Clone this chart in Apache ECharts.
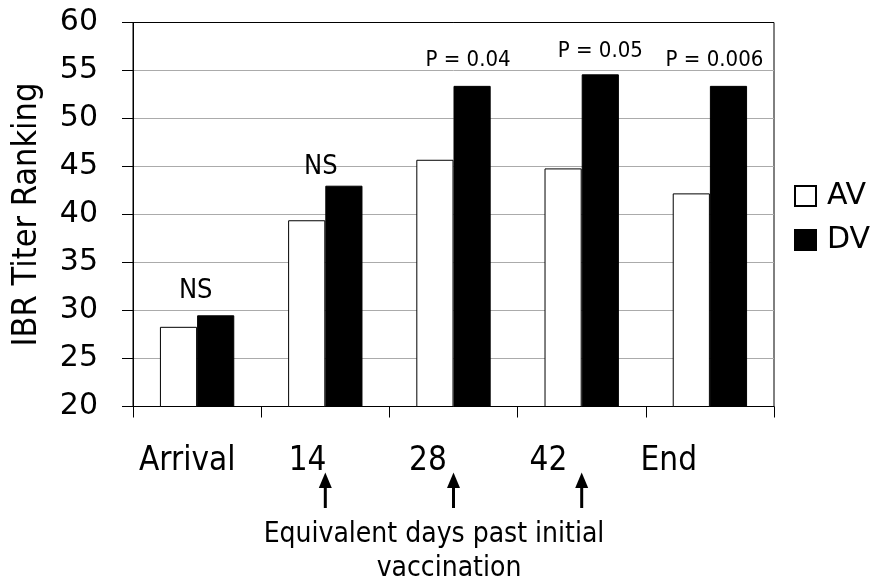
<!DOCTYPE html>
<html><head><meta charset="utf-8">
<script src="https://cdn.jsdelivr.net/npm/echarts@6/dist/echarts.min.js"></script>
<style>html,body{margin:0;padding:0;background:#fff}#c{width:870px;height:581px}</style>
</head><body><div id="c"></div>
<script>
// ---- data ----
const categories = ['Arrival', '14', '28', '42', 'End'];
const seriesNames = ['AV', 'DV'];
const avValues = [28.3, 39.4, 45.7, 44.8, 42.2];
const dvValues = [29.5, 43.0, 53.4, 54.6, 53.4];
const notes = ['NS', 'NS', 'P = 0.04', 'P = 0.05', 'P = 0.006'];
const yTicks = [20, 25, 30, 35, 40, 45, 50, 55, 60];
const arrowCategories = ['14', '28', '42'];
const yTitle = 'IBR Titer Ranking';
const xTitleLines = ['Equivalent days past initial', 'vaccination'];

// ---- styling / layout ----
const COND = "'DejaVu Sans Condensed', 'DejaVu Sans', sans-serif";
const WIDE = "'DejaVu Sans', sans-serif";
const noteSize = [27, 27, 22, 22, 22];
const noteDistance = [11, 5.5, 15, 12, 15];
const noteShift = [-20, -23, -4, 0, -14];

const chart = echarts.init(document.getElementById('c'), null, {renderer: 'canvas'});
const yMin = yTicks[0], yMax = yTicks[yTicks.length - 1], yStep = yTicks[1] - yTicks[0];
const splitColors = yTicks.map((v, i) => i === yTicks.length - 1 ? '#000' : '#ababab');

const option = {
  animation: false,
  backgroundColor: '#fff',
  grid: [
    {left: 133, top: 22.5, width: 641, height: 384, show: true, borderColor: '#000', borderWidth: 1, backgroundColor: 'transparent'},
    {left: 127, top: 400, width: 602, height: 6.5}
  ],
  xAxis: [
    {type: 'category', gridIndex: 0, data: categories, boundaryGap: true,
     axisLine: {lineStyle: {color: '#000', width: 1}},
     axisTick: {show: true, length: 11, inside: false, lineStyle: {color: '#000'}},
     axisLabel: {show: false}},
    {type: 'category', gridIndex: 1, data: categories, position: 'bottom',
     axisLine: {show: false}, axisTick: {show: false}, splitLine: {show: false},
     axisLabel: {show: true, interval: 0, margin: 38, fontFamily: COND, fontSize: 33, color: '#000'}}
  ],
  yAxis: [
    {type: 'value', gridIndex: 0, min: yMin, max: yMax, interval: yStep,
     name: yTitle, nameLocation: 'middle', nameRotate: 90, nameGap: 89,
     nameTextStyle: {fontFamily: COND, fontSize: 34, color: '#000'},
     axisLine: {show: true, lineStyle: {color: '#000', width: 1}},
     axisTick: {show: true, length: 11, lineStyle: {color: '#000'}},
     axisLabel: {margin: 35, fontFamily: WIDE, fontSize: 30, color: '#000'},
     splitLine: {show: true, lineStyle: {color: splitColors, width: 1}}},
    {type: 'value', gridIndex: 1, show: false}
  ],
  legend: {
    orient: 'vertical', left: 789, top: 176, padding: 5,
    itemWidth: 21, itemHeight: 20, itemGap: 14, icon: 'rect',
    data: seriesNames,
    textStyle: {fontFamily: WIDE, fontSize: 30, color: '#000', lineHeight: 30, padding: [0, 0, 0, 6]}
  },
  series: [
    {name: seriesNames[0], type: 'bar', xAxisIndex: 0, yAxisIndex: 0, data: avValues,
     barGap: '0%', barCategoryGap: '42%',
     itemStyle: {color: '#fff', borderColor: '#000', borderWidth: 1}},
    {name: seriesNames[1], type: 'bar', xAxisIndex: 0, yAxisIndex: 0,
     barGap: '0%', barCategoryGap: '42%',
     itemStyle: {color: '#000', borderColor: '#000', borderWidth: 1},
     data: dvValues.map((v, i) => ({
       value: v,
       label: {show: true, position: 'top', distance: noteDistance[i], offset: [noteShift[i], 0],
               formatter: notes[i], fontFamily: COND, fontSize: noteSize[i], color: '#000'}
     }))}
  ]
};
chart.setOption(option);

// annotations: arrows below the category ticks and the axis caption
const graphics = [];
arrowCategories.forEach(cat => {
  const x = chart.convertToPixel({xAxisIndex: 0}, categories.indexOf(cat));
  graphics.push({type: 'line', shape: {x1: x, y1: 486, x2: x, y2: 508}, style: {stroke: '#000', lineWidth: 3}});
  graphics.push({type: 'polygon', shape: {points: [[x - 6.5, 488], [x + 6.5, 488], [x, 472.5]]}, style: {fill: '#000'}});
});
graphics.push({type: 'text', x: 434, y: 534.5, style: {text: xTitleLines[0], font: "28px 'DejaVu Sans Condensed', 'DejaVu Sans', sans-serif", fill: '#000', align: 'center', verticalAlign: 'middle'}});
graphics.push({type: 'text', x: 449, y: 568.5, style: {text: xTitleLines[1], font: "28px 'DejaVu Sans Condensed', 'DejaVu Sans', sans-serif", fill: '#000', align: 'center', verticalAlign: 'middle'}});
chart.setOption({graphic: graphics});
</script>
</body></html>
